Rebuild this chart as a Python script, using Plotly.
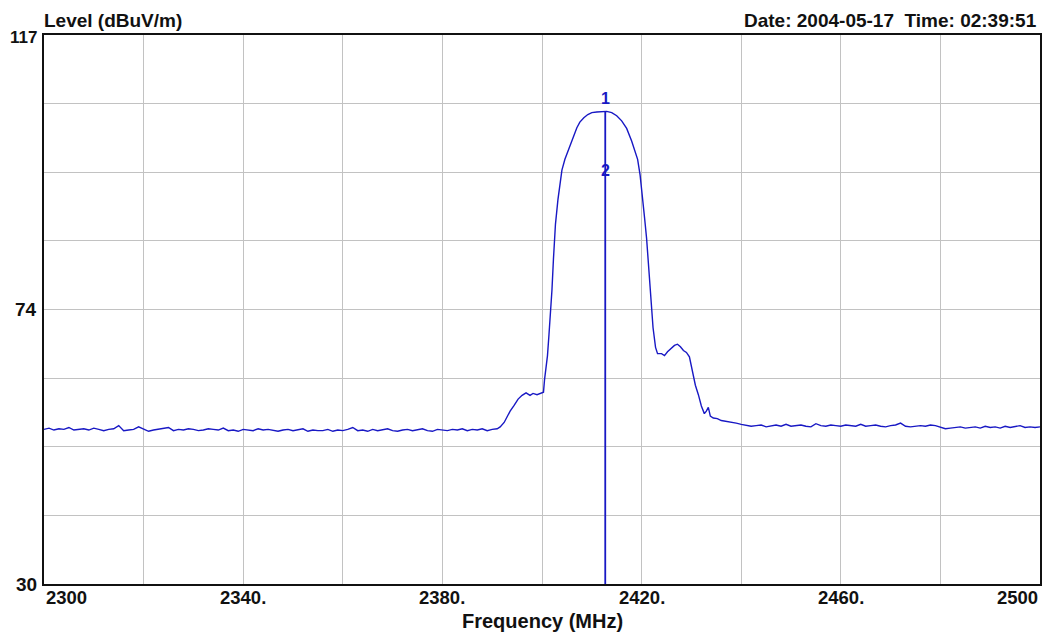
import plotly.graph_objects as go

# ---------------- data ----------------
floor_left_freq = list(range(2300, 2389))
floor_left_level = [54.5, 54.7, 54.4, 54.6, 54.5, 54.8, 54.4, 54.5, 54.6, 54.4,
                    54.7, 54.5, 54.3, 54.5, 54.6, 55.1, 54.3, 54.4, 54.5, 54.9,
                    54.6, 54.2, 54.4, 54.5, 54.6, 54.8, 54.3, 54.5, 54.4, 54.6,
                    54.5, 54.3, 54.4, 54.6, 54.5, 54.4, 54.7, 54.3, 54.4, 54.2,
                    54.5, 54.4, 54.3, 54.6, 54.4, 54.5, 54.3, 54.2, 54.4, 54.5,
                    54.3, 54.4, 54.6, 54.2, 54.4, 54.3, 54.3, 54.5, 54.2, 54.4,
                    54.3, 54.5, 54.8, 54.3, 54.4, 54.2, 54.5, 54.3, 54.4, 54.6,
                    54.3, 54.2, 54.4, 54.5, 54.3, 54.4, 54.6, 54.3, 54.2, 54.5,
                    54.4, 54.3, 54.5, 54.4, 54.6, 54.3, 54.5, 54.4, 54.6]

signal_freq = [2389.0, 2390.0, 2391.0, 2391.6, 2392.4, 2393.0, 2393.6, 2394.4, 2395.2, 2396.0,
               2396.8, 2397.6, 2398.2, 2399.0, 2399.8, 2400.3, 2400.5, 2400.8, 2401.1, 2401.4,
               2401.7, 2402.0, 2402.3, 2402.7, 2403.2, 2403.6, 2404.0, 2404.6, 2405.2, 2405.8,
               2406.4, 2407.0, 2407.6, 2408.4, 2409.2, 2410.0, 2411.0, 2412.0, 2413.0, 2414.0,
               2415.0, 2416.0, 2417.0, 2418.0, 2418.6, 2419.2, 2419.7, 2420.2, 2420.6, 2421.0,
               2421.4, 2421.8, 2422.3, 2422.8, 2423.2, 2424.0, 2424.6, 2425.2, 2425.8, 2426.6,
               2427.2, 2427.8, 2428.4, 2429.0, 2429.6, 2430.2, 2430.8, 2431.4, 2432.0, 2432.6,
               2433.0, 2433.4, 2433.8, 2434.4, 2435.2, 2436.0, 2437.0, 2438.0, 2439.0, 2440.0]
signal_level = [54.3, 54.5, 54.6, 54.9, 55.6, 56.5, 57.4, 58.3, 59.3, 59.9,
                60.3, 59.9, 60.2, 60.0, 60.2, 60.4, 62.3, 64.0, 66.2, 69.5,
                72.5, 76.6, 81.5, 87.0, 90.9, 93.4, 95.6, 97.3, 98.6, 99.9,
                101.1, 102.3, 103.2, 103.9, 104.4, 104.7, 104.8, 104.9, 104.9, 104.7,
                104.2, 103.4, 102.2, 100.2, 98.9, 97.3, 94.8, 91.5, 88.0, 84.8,
                80.5, 75.6, 70.6, 67.5, 66.5, 66.5, 66.2, 66.8, 67.3, 67.8,
                68.0, 67.6, 67.0, 66.7, 66.0, 63.8, 61.5, 60.0, 58.2, 57.0,
                57.4, 58.0, 56.6, 56.3, 56.2, 55.9, 55.8, 55.6, 55.5, 55.3]

floor_right_freq = list(range(2441, 2501))
floor_right_level = [55.2, 55.0, 55.1, 55.2, 54.9, 55.1, 55.2, 55.0, 55.3, 55.0,
                     55.1, 55.2, 55.0, 54.9, 55.4, 55.1, 55.0, 55.2, 55.1, 55.0,
                     55.2, 55.1, 55.0, 55.3, 55.0, 55.1, 55.2, 55.0, 54.9, 55.1,
                     55.2, 55.5, 55.0, 54.9, 55.0, 55.1, 55.0, 55.2, 55.1, 54.9,
                     54.6, 54.7, 54.8, 54.9, 54.7, 54.8, 54.9, 54.7, 55.0, 54.8,
                     54.9, 54.7, 55.0, 54.8, 54.9, 55.1, 54.8, 54.9, 54.8, 54.9]

freq = floor_left_freq + signal_freq + floor_right_freq
level = floor_left_level + signal_level + floor_right_level

marker_freq = 2412.7
marker1_level = 104.9
marker2_level = 95.6

x_min, x_max = 2300, 2500
y_min, y_max = 30, 117
x_grid = list(range(2300, 2501, 20))
y_grid = [30 + k * (y_max - y_min) / 8 for k in range(9)]
y_label_vals = [117, 73.5, 30]
y_label_text = ["117", "74", "30"]
x_label_vals = [2300, 2340, 2380, 2420, 2460, 2500]
x_label_text = ["2300", "2340.", "2380.", "2420.", "2460.", "2500"]

# ---------------- figure ----------------
blue = "#1818c4"
txt = "#111111"
font_family = "Liberation Sans, Arial, sans-serif"

fig = go.Figure()
fig.add_trace(go.Scatter(x=freq, y=level, mode="lines",
                         line=dict(color=blue, width=1.4), hoverinfo="x+y",
                         showlegend=False))
fig.add_trace(go.Scatter(x=[marker_freq, marker_freq], y=[y_min, marker1_level],
                         mode="lines", line=dict(color=blue, width=1.8),
                         showlegend=False))

annotations = []
for v, t in zip(x_label_vals, x_label_text):
    anchor = "left" if v == x_min else ("right" if v == x_max else "center")
    annotations.append(dict(x=v, y=0, xref="x", yref="paper", text=t, showarrow=False,
                            xanchor=anchor, yanchor="middle", yshift=-13,
                            font=dict(family=font_family, size=18.5, color=txt, weight="bold")))
for v, t in zip(y_label_vals, y_label_text):
    annotations.append(dict(x=0, y=v, xref="paper", yref="y", text=t, showarrow=False,
                            xanchor="right", yanchor="middle", xshift=-5,
                            yshift=-2 if v == y_max else 0,
                            font=dict(family=font_family, size=17 if len(t) > 2 else 19,
                                      color=txt, weight="bold")))
annotations += [
    dict(x=marker_freq, y=marker1_level, xref="x", yref="y", text="1", showarrow=False,
         xanchor="center", yanchor="bottom", yshift=2,
         font=dict(family=font_family, size=16, color=blue, weight="bold")),
    dict(x=marker_freq, y=marker2_level, xref="x", yref="y", text="2", showarrow=False,
         xanchor="center", yanchor="middle",
         font=dict(family=font_family, size=16, color=blue, weight="bold")),
    dict(x=0, y=1, xref="paper", yref="paper", text="Level (dBuV/m)", showarrow=False,
         xanchor="left", yanchor="middle", xshift=-2, yshift=15,
         font=dict(family=font_family, size=19, color=txt, weight="bold")),
    dict(x=1, y=1, xref="paper", yref="paper", text="Date: 2004-05-17&nbsp;&nbsp;Time: 02:39:51",
         showarrow=False, xanchor="right", yanchor="middle", xshift=-1, yshift=15,
         font=dict(family=font_family, size=19, color=txt, weight="bold")),
    dict(x=0.5, y=0, xref="paper", yref="paper", text="Frequency (MHz)", showarrow=False,
         xanchor="center", yanchor="middle", yshift=-37,
         font=dict(family=font_family, size=20, color=txt, weight="bold")),
]

# page body has an 8px margin, so the figure is offset by 8px in the window
fig.update_layout(
    width=1045, height=627,
    margin=dict(l=36, r=13, t=27, b=51, autoexpand=False),
    paper_bgcolor="white", plot_bgcolor="white",
    annotations=annotations,
    xaxis=dict(range=[x_min, x_max], tickvals=x_grid, showticklabels=False,
               showgrid=True, gridcolor="#c2c2c2", gridwidth=1,
               showline=True, linecolor=txt, linewidth=2, mirror=True,
               zeroline=False, ticks="", automargin=False),
    yaxis=dict(range=[y_min, y_max], tickvals=y_grid, showticklabels=False,
               showgrid=True, gridcolor="#c2c2c2", gridwidth=1,
               showline=True, linecolor=txt, linewidth=2, mirror=True,
               zeroline=False, ticks="", automargin=False),
)

fig.write_html("out.html")
